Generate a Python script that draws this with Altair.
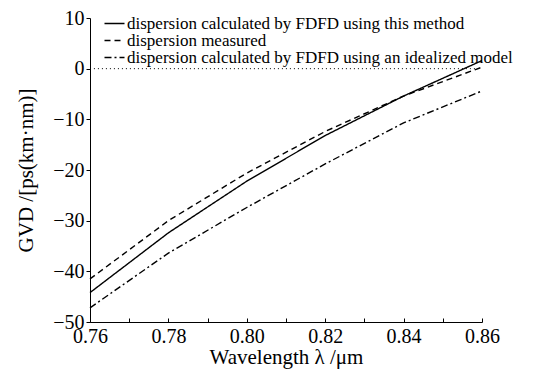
import altair as alt
import pandas as pd

wavelength = [0.76, 0.78, 0.80, 0.82, 0.84, 0.86]
gvd_method = [-44.2, -32.4, -22.2, -13.2, -5.4, 1.6]
gvd_measured = [-41.5, -30.0, -20.6, -12.4, -5.4, 0.3]
gvd_ideal = [-47.2, -36.4, -27.4, -18.8, -10.7, -4.4]
series_names = [
    "dispersion calculated by FDFD using this method",
    "dispersion measured",
    "dispersion calculated by FDFD using an idealized model",
]
dash_styles = [[1, 0], [6, 4], [7, 3, 2, 3]]

rows = []
for name, vals in zip(series_names, [gvd_method, gvd_measured, gvd_ideal]):
    for w, v in zip(wavelength, vals):
        rows.append({"wl": w, "gvd": v, "series": name})
df = pd.DataFrame(rows)

zero_df = pd.DataFrame({"x": [0.761], "x2": [0.859], "y": [0.0]})

FONT = "Liberation Serif"
H = 304

xscale = alt.Scale(domain=[0.76, 0.86], nice=False, zero=False)
yscale = alt.Scale(domain=[-50, 10], nice=False, zero=False)

x_ticks = [round(0.76 + 0.01 * i, 2) for i in range(11)]
y_ticks = list(range(-50, 11, 5))

lines = alt.Chart(df).mark_line(strokeWidth=1.4, color="black").encode(
    x=alt.X("wl:Q", scale=xscale,
            axis=alt.Axis(orient="bottom", title="Wavelength λ /μm", values=x_ticks, format=".2f",
                          ticks=False, labelPadding=4, labelFlush=False,
                          labelExpr="round(datum.value*100) % 2 == 0 ? datum.label : ''")),
    y=alt.Y("gvd:Q", scale=yscale,
            axis=alt.Axis(title="GVD /[ps(km·nm)]", values=y_ticks, labelFlush=False,
                          tickSize=4, labelPadding=2, titlePadding=16,
                          labelExpr="datum.value % 10 == 0 ? datum.label : ''")),
    strokeDash=alt.StrokeDash("series:N",
                              scale=alt.Scale(domain=series_names, range=dash_styles),
                              legend=alt.Legend(title=None, orient="none", legendX=16, legendY=-3,
                                                symbolType="M-2,0L2,0", symbolSize=100,
                                                symbolFillColor="transparent",
                                                symbolStrokeWidth=1.4, symbolStrokeColor="black",
                                                labelFont=FONT, labelFontSize=17, labelColor="black",
                                                labelOffset=4, rowPadding=-2, padding=0,
                                                labelLimit=500)),
    detail="series:N",
)

zero = alt.Chart(zero_df).mark_rule(color="black", strokeDash=[1, 3], strokeWidth=1).encode(
    x=alt.X("x:Q", scale=xscale,
            axis=alt.Axis(orient="top", offset=-H, labels=False, domain=False, ticks=True,
                          tickSize=4, title=None, values=x_ticks)),
    x2="x2:Q",
    y=alt.Y("y:Q", scale=yscale),
)

chart = alt.layer(zero, lines).resolve_axis(x="independent").properties(
    width=392, height=H,
    autosize=alt.AutoSizeParams(type="none"),
    padding={"left": 82, "top": 10, "right": 40, "bottom": 50},
).configure_view(stroke=None).configure_axis(
    grid=False, domainColor="black", tickColor="black",
    labelFont=FONT, labelFontSize=20, labelColor="black",
    titleFont=FONT, titleFontSize=21, titleColor="black", titleFontWeight="normal",
).configure_axisX(titlePadding=0)

chart.save("out.html", embed_options={"renderer": "svg", "actions": False})
